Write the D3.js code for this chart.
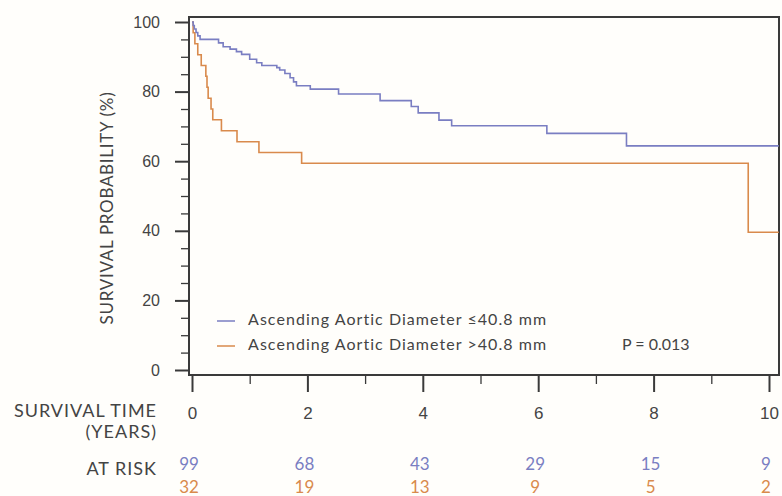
<!DOCTYPE html>
<html>
<head>
<meta charset="utf-8">
<script src="https://cdn.jsdelivr.net/npm/d3@7"></script>
<style>
  body { margin: 0; background: #fffefb; }
  svg { display: block; font-family: Lato, "Open Sans", sans-serif; }
  .tick text { fill: #444; }
</style>
</head>
<body>
<div id="chart"></div>
<script>
// step points of the two Kaplan-Meier curves: [years, survival %]
const smallDiameter = [
    [0, 100], [0.02, 99], [0.04, 98], [0.07, 97], [0.10, 96], [0.14, 95],
    [0.46, 94.0], [0.54, 92.9], [0.66, 92.2], [0.77, 91.5], [0.86, 90.7],
    [1.00, 89.3], [1.12, 88.3], [1.21, 87.5], [1.47, 86.9], [1.52, 86.2],
    [1.61, 85.2], [1.70, 84.0], [1.76, 82.8], [1.81, 81.7], [2.05, 80.7],
    [2.54, 79.3], [3.26, 77.4], [3.80, 75.7], [3.92, 73.9], [4.28, 71.8],
    [4.50, 70.2], [6.15, 68.0], [7.53, 64.4], [10.17, 64.4]
]
const largeDiameter = [
    [0, 100], [0.02, 96.9], [0.05, 93.75], [0.10, 90.6], [0.16, 87.5],
    [0.24, 84.4], [0.26, 81.25], [0.28, 78.1], [0.33, 75.0], [0.36, 71.9],
    [0.51, 68.75], [0.78, 65.6], [1.16, 62.5], [1.90, 59.4], [9.64, 39.6],
    [10.17, 39.6]
]
const seriesNames = ['Ascending Aortic Diameter \u226440.8 mm', 'Ascending Aortic Diameter >40.8 mm']
const yTicks = [0, 20, 40, 60, 80, 100]
const xTicks = [0, 2, 4, 6, 8, 10]
const atRiskSmall = [99, 68, 43, 29, 15, 9]
const atRiskLarge = [32, 19, 13, 9, 5, 2]
const pValue = 'P = 0.013'

const blue = '#7a7ec2'
const orange = '#d98a4c'
const ink = '#3a3a3a'

const width = 782, height = 496
const svg = d3.select('#chart').append('svg')
    .attr('width', width)
    .attr('height', height)

const x = d3.scaleLinear().domain([0, 10]).range([192, 769])
const y = d3.scaleLinear().domain([0, 100]).range([370, 22])

// frame of the plot
const box = { left: 189, top: 17, right: 779, bottom: 375 }
svg.append('rect')
    .attr('x', box.left).attr('y', box.top)
    .attr('width', box.right - box.left).attr('height', box.bottom - box.top)
    .attr('fill', 'none').attr('stroke', ink).attr('stroke-width', 2)

// y axis: minor ticks every 5, major every 20
const yMinor = d3.range(0, 101, 5).filter(v => v % 20 !== 0)
svg.append('g')
    .attr('transform', `translate(${box.left},0)`)
    .call(d3.axisLeft(y).tickValues(yMinor).tickSize(8).tickFormat(''))
    .call(g => g.select('.domain').remove())
    .call(g => g.selectAll('line').attr('stroke', ink).attr('stroke-width', 1.3))
svg.append('g')
    .attr('transform', `translate(${box.left},0)`)
    .call(d3.axisLeft(y).tickValues(yTicks).tickSize(14).tickPadding(15))
    .call(g => g.select('.domain').remove())
    .call(g => g.selectAll('line').attr('stroke', ink).attr('stroke-width', 2))
    .call(g => g.selectAll('text').style('font-size', '16px'))

// x axis below the frame
const xMinor = d3.range(1, 10, 2)
svg.append('g')
    .attr('transform', `translate(0,${box.bottom})`)
    .call(d3.axisBottom(x).tickValues(xMinor).tickSize(9).tickFormat(''))
    .call(g => g.select('.domain').remove())
    .call(g => g.selectAll('line').attr('stroke', ink).attr('stroke-width', 1.3))
svg.append('g')
    .attr('transform', `translate(0,${box.bottom})`)
    .call(d3.axisBottom(x).tickValues(xTicks).tickSize(17).tickPadding(15))
    .call(g => g.select('.domain').remove())
    .call(g => g.selectAll('line').attr('stroke', ink).attr('stroke-width', 2))
    .call(g => g.selectAll('text').style('font-size', '17px'))

// survival curves
const line = d3.line()
    .x(d => x(d[0]))
    .y(d => y(d[1]))
    .curve(d3.curveStepAfter)

svg.append('path')
    .datum(largeDiameter)
    .attr('d', line)
    .attr('fill', 'none').attr('stroke', orange).attr('stroke-width', 1.6)
svg.append('path')
    .datum(smallDiameter)
    .attr('d', line)
    .attr('fill', 'none').attr('stroke', blue).attr('stroke-width', 1.6)

// y title
svg.append('text')
    .attr('transform', 'translate(106,208) rotate(-90)')
    .attr('text-anchor', 'middle')
    .attr('dominant-baseline', 'central')
    .attr('fill', '#444')
    .style('font-size', '17px')
    .style('letter-spacing', '0.7px')
    .text('SURVIVAL PROBABILITY (%)')

// legend
const legend = svg.append('g')
seriesNames.forEach((name, i) => {
    const ly = 318 + i * 25
    legend.append('line')
        .attr('x1', 217).attr('x2', 235)
        .attr('y1', ly + 3).attr('y2', ly + 3)
        .attr('stroke', i === 0 ? blue : orange).attr('stroke-width', 1.5)
    legend.append('text')
        .attr('x', 248).attr('y', ly)
        .attr('dominant-baseline', 'central')
        .attr('fill', '#444')
        .style('font-size', '16px')
        .style('letter-spacing', '1.05px')
        .text(name)
})
svg.append('text')
    .attr('x', 622).attr('y', 343)
    .attr('dominant-baseline', 'central')
    .attr('fill', '#444')
    .style('font-size', '16px')
    .text(pValue)

// row titles of the table under the axis
const rowTitle = (txt, ty) => svg.append('text')
    .attr('x', 157).attr('y', ty)
    .attr('text-anchor', 'end')
    .attr('dominant-baseline', 'central')
    .attr('fill', '#444')
    .style('font-size', '18px')
    .style('letter-spacing', '1px')
    .text(txt)
rowTitle('SURVIVAL TIME', 410)
rowTitle('(YEARS)', 431)
rowTitle('AT RISK', 468)

// numbers at risk
const riskRow = (vals, ty, color) => svg.append('g')
    .selectAll('text')
    .data(vals)
    .join('text')
    .attr('x', (d, i) => x(xTicks[i]) - 3)
    .attr('y', ty)
    .attr('text-anchor', 'middle')
    .attr('dominant-baseline', 'central')
    .attr('fill', color)
    .style('font-size', '17px')
    .text(d => d)
riskRow(atRiskSmall, 463, blue)
riskRow(atRiskLarge, 486, orange)
</script>
</body>
</html>
